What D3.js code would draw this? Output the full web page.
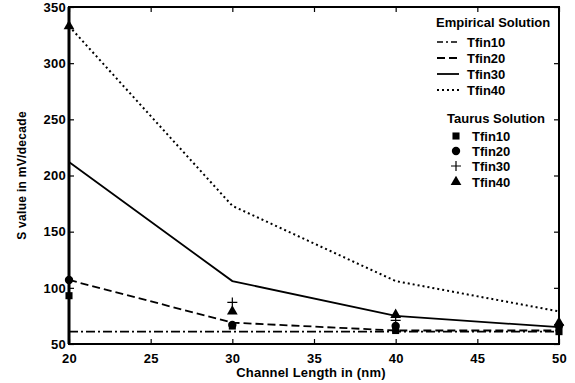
<!DOCTYPE html>
<html>
<head>
<meta charset="utf-8">
<script src="https://cdn.jsdelivr.net/npm/d3@7"></script>
<style>
  body { margin: 0; background: #fff; }
  text { font-family: "Liberation Sans", Arial, sans-serif; font-weight: bold; fill: #000; }
</style>
</head>
<body>
<div class="chart"></div>
<script>
var svgWidth = 575;
var svgHeight = 383;

// Channel length (nm)
var lengths = [20, 30, 40, 50];
var xTicks = [20, 25, 30, 35, 40, 45, 50];
var yTicks = [50, 100, 150, 200, 250, 300, 350];

// Empirical solution (lines)
var empTfin10 = [61, 61, 61, 61];
var empTfin20 = [107, 69, 62, 62];
var empTfin30 = [212, 106, 75, 65];
var empTfin40 = [333, 173, 106, 79];

// Taurus solution (markers)
var tauTfin10 = [93, 66, 62, 61];
var tauTfin20 = [107, 67, 66, 66];
var tauTfin30 = [null, 87, 71, 67];
var tauTfin40 = [333, 79, 76, 69];

var margin = { top: 7, right: 16, bottom: 39, left: 69 };
var width = svgWidth - margin.left - margin.right;
var height = svgHeight - margin.top - margin.bottom;

var svg = d3.select(".chart")
    .append("svg")
    .attr("width", svgWidth)
    .attr("height", svgHeight);

var chart = svg.append("g")
    .attr("transform", `translate(${margin.left}, ${margin.top})`);

var x = d3.scaleLinear().domain([20, 50]).range([0, width]);
var y = d3.scaleLinear().domain([50, 350]).range([height, 0]);

// axes: ticks point inwards on all four sides
var tickLen = 5;
chart.append("g")
    .attr("transform", "translate(0," + height + ")")
    .call(d3.axisBottom(x).tickValues(xTicks).tickSize(-tickLen).tickPadding(10))
    .call(g => g.select(".domain").remove());
chart.append("g")
    .call(d3.axisTop(x).tickValues(xTicks).tickSize(-tickLen).tickFormat(""))
    .call(g => g.select(".domain").remove());
chart.append("g")
    .call(d3.axisLeft(y).tickValues(yTicks).tickSize(-tickLen).tickPadding(3))
    .call(g => g.select(".domain").remove());
chart.append("g")
    .attr("transform", "translate(" + width + ",0)")
    .call(d3.axisRight(y).tickValues(yTicks).tickSize(-tickLen).tickFormat(""))
    .call(g => g.select(".domain").remove());

chart.selectAll(".tick line").attr("stroke", "#000").attr("stroke-width", 1.2);
chart.selectAll(".tick text")
    .style("font-size", "13px")
    .style("font-weight", "bold")
    .style("letter-spacing", "0.3px");

// frame
chart.append("rect")
    .attr("x", 0).attr("y", 0)
    .attr("width", width).attr("height", height)
    .attr("fill", "none").attr("stroke", "#000").attr("stroke-width", 2);
chart.append("line")
    .attr("x1", 0).attr("x2", 0).attr("y1", 0).attr("y2", height)
    .attr("stroke", "#000").attr("stroke-width", 3);

// empirical lines
var lineGen = d3.line()
    .defined(d => d != null)
    .x((d, i) => x(lengths[i]))
    .y(d => y(d));

var empSeries = [
  { name: "Tfin10", values: empTfin10, dash: "9,3,2,3", w: 1.6 },
  { name: "Tfin20", values: empTfin20, dash: "8,4", w: 1.8 },
  { name: "Tfin30", values: empTfin30, dash: null, w: 1.8 },
  { name: "Tfin40", values: empTfin40, dash: "2,3", w: 2 }
];

empSeries.forEach(function(s) {
  chart.append("path")
      .datum(s.values)
      .attr("d", lineGen)
      .attr("fill", "none")
      .attr("stroke", "#000")
      .attr("stroke-width", s.w)
      .attr("stroke-dasharray", s.dash);
});

// taurus markers
var tauSeries = [
  { name: "Tfin10", values: tauTfin10, shape: d3.symbolSquare, size: 50, plus: false },
  { name: "Tfin20", values: tauTfin20, shape: d3.symbolCircle, size: 55, plus: false },
  { name: "Tfin30", values: tauTfin30, shape: null, size: 0, plus: true },
  { name: "Tfin40", values: tauTfin40, shape: d3.symbolTriangle, size: 50, plus: false }
];

function drawMarker(g, s, cx, cy) {
  if (s.plus) {
    g.append("path")
        .attr("d", `M${cx - 5},${cy}H${cx + 5}M${cx},${cy - 5}V${cy + 5}`)
        .attr("stroke", "#000").attr("stroke-width", 1.2).attr("fill", "none");
  } else {
    g.append("path")
        .attr("transform", `translate(${cx},${cy})`)
        .attr("d", d3.symbol().type(s.shape).size(s.size)())
        .attr("fill", "#000");
  }
}

tauSeries.forEach(function(s) {
  s.values.forEach(function(v, i) {
    if (v == null) return;
    drawMarker(chart, s, x(lengths[i]), y(v));
  });
});

// axis titles
svg.append("text")
    .attr("transform", "translate(26," + (margin.top + height / 2) + ") rotate(-90)")
    .attr("text-anchor", "middle")
    .style("font-size", "12px")
    .style("letter-spacing", "0.3px")
    .text("S value in mV/decade");

svg.append("text")
    .attr("x", 311)
    .attr("y", 377)
    .attr("text-anchor", "middle")
    .style("font-size", "13px")
    .style("letter-spacing", "0.2px")
    .text("Channel Length in (nm)");

// legend
var legend = svg.append("g");
legend.append("text").attr("x", 436).attr("y", 27)
    .style("font-size", "13px").text("Empirical Solution");
var empRows = [47, 63, 79, 95];
empSeries.forEach(function(s, i) {
  legend.append("line")
      .attr("x1", 437).attr("x2", 459)
      .attr("y1", empRows[i] - 5).attr("y2", empRows[i] - 5)
      .attr("stroke", "#000").attr("stroke-width", s.w)
      .attr("stroke-dasharray", s.name == "Tfin10" ? "6,3,2,3" : s.dash);
  legend.append("text").attr("x", 467).attr("y", empRows[i])
      .style("font-size", "13px").text(s.name);
});

legend.append("text").attr("x", 447).attr("y", 123)
    .style("font-size", "13px").text("Taurus Solution");
var tauRows = [141, 156, 171, 187];
tauSeries.forEach(function(s, i) {
  drawMarker(legend, s, 456, tauRows[i] - 5);
  legend.append("text").attr("x", 472).attr("y", tauRows[i])
      .style("font-size", "13px").text(s.name);
});
</script>
</body>
</html>
